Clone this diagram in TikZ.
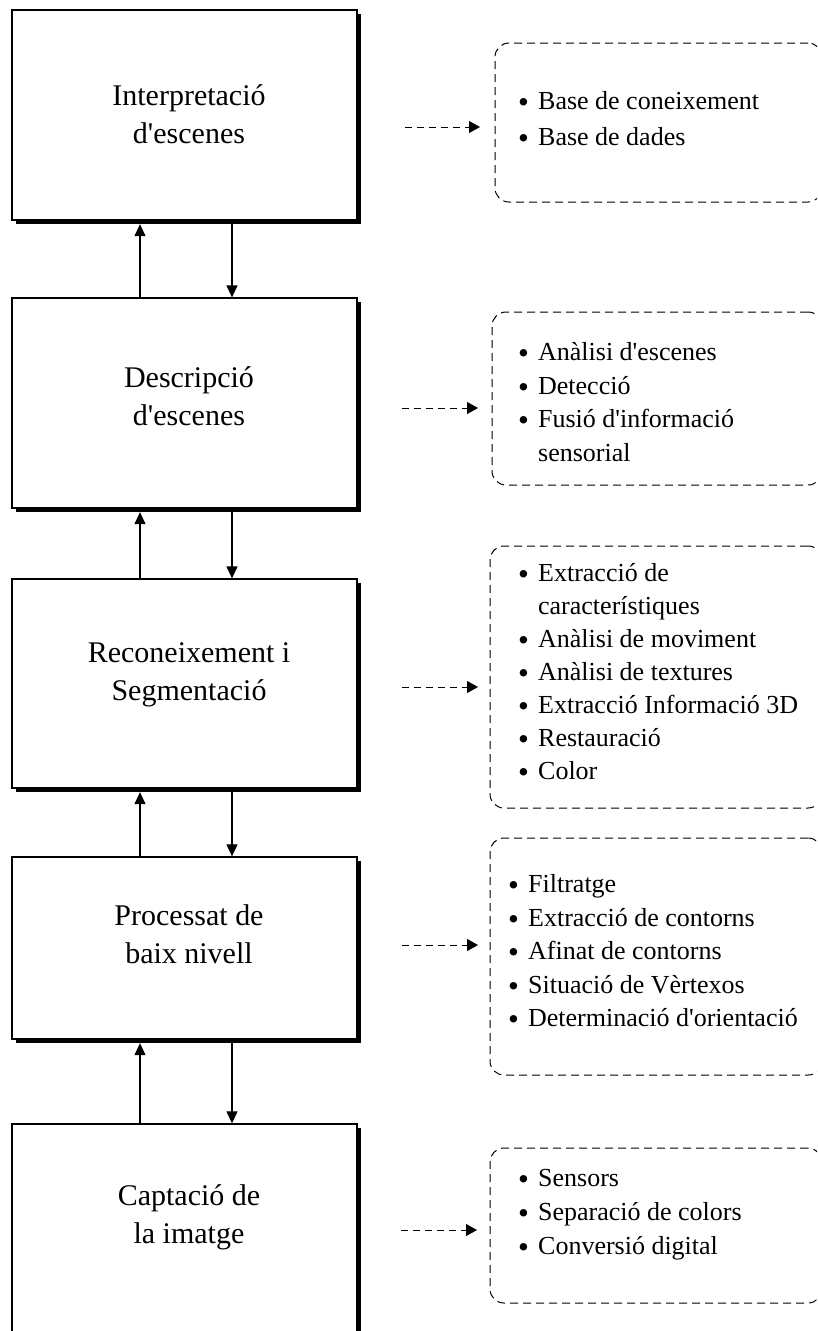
\documentclass[tikz,border=0pt]{standalone}
\usepackage{fontspec}
\setmainfont{Liberation Serif}[Ligatures=TeXOff]
\usetikzlibrary{arrows.meta,shadows}
\newcommand\bul{\raisebox{-3pt}{\fontsize{31}{0}\selectfont •}\hspace{0.35em}}
\newcommand\hng{\phantom{\fontsize{31}{0}\selectfont •}\hspace{0.35em}}
\begin{document}
\begin{tikzpicture}[x=1pt,y=-1pt,
  stage/.style={draw=black, line width=1.3pt, fill=white, minimum width=345pt,
    inner sep=0pt,
    general shadow={fill=black, shadow xshift=3.5pt, shadow yshift=-3.5pt}},
  stagetext/.style={inner sep=0pt, align=center, font=\fontsize{30}{38}\selectfont},
  dbox/.style={draw=black, line width=1pt, dash pattern=on 8pt off 5pt,
    rounded corners=14pt, inner sep=0pt},
  list/.style={inner sep=0pt, align=left, anchor=west},
  conn/.style={line width=1.2pt, -{Triangle[length=12pt,width=11pt]}},
  dconn/.style={line width=0.9pt, dash pattern=on 7pt off 5pt, -{Triangle[length=11pt,width=12pt]}}
]
\useasboundingbox (0,0) rectangle (817,1331);
\clip (0,0) rectangle (817,1331);

% stage boxes
\node[stage, minimum height=210pt] (s1) at (184.5,115) {};
\node[stage, minimum height=210pt] (s2) at (184.5,403) {};
\node[stage, minimum height=209pt] (s3) at (184.5,683.5) {};
\node[stage, minimum height=182pt] (s4) at (184.5,948) {};
\node[stage, minimum height=232pt] (s5) at (184.5,1240) {};
\node[stagetext] (t1) at (189,114) {Interpretació\\d'escenes};
\node[stagetext] (t2) at (189,396) {Descripció\\d'escenes};
\node[stagetext] (t3) at (189,675) {Reconeixement i\\Segmentació};
\node[stagetext] (t4) at (189,934) {Processat de\\baix nivell};
\node[stagetext] (t5) at (189,1217) {Captació de\\la imatge};

% shadow bottoms
\coordinate (s1b) at ([yshift=-3.5pt]s1.south);
\coordinate (s2b) at ([yshift=-3.5pt]s2.south);
\coordinate (s3b) at ([yshift=-3.5pt]s3.south);
\coordinate (s4b) at ([yshift=-3.5pt]s4.south);
\coordinate (upx) at (140,0);
\coordinate (dnx) at (232,0);

\foreach \a/\b in {s1b/s2, s2b/s3, s3b/s4, s4b/s5} {
  \draw[conn] (\b.north -| upx) -- (\a -| upx);
  \draw[conn] (\a -| dnx) -- (\b.north -| dnx);
}

% dashed boxes
\node[dbox, minimum width=327pt, minimum height=159pt] (da) at (658.5,122.5) {};
\node[dbox, minimum width=330pt, minimum height=173pt] (db) at (657,398.5) {};
\node[dbox, minimum width=332pt, minimum height=262pt] (dc) at (656,677) {};
\node[dbox, minimum width=332pt, minimum height=237pt] (dd) at (656,956.5) {};
\node[dbox, minimum width=332pt, minimum height=155pt] (de) at (656,1225.5) {};

% lists
\node[list, font=\fontsize{26}{36}\selectfont] (la) at (518,120)
  {\bul Base de coneixement\\\bul Base de dades};
\node[list, font=\fontsize{26}{33.5}\selectfont] (lb) at (518,402)
  {\bul Anàlisi d'escenes\\\bul Detecció\\\bul Fusió d'informació\\\hng sensorial};
\node[list, font=\fontsize{26}{33}\selectfont] (lc) at (518,673)
  {\bul Extracció de\\\hng característiques\\\bul Anàlisi de moviment\\\bul Anàlisi de textures\\\bul Extracció Informació 3D\\\bul Restauració\\\bul Color};
\node[list, font=\fontsize{26}{33.5}\selectfont] (ld) at (508,952)
  {\bul Filtratge\\\bul Extracció de contorns\\\bul Afinat de contorns\\\bul Situació de Vèrtexos\\\bul Determinació d'orientació};
\node[list, font=\fontsize{26}{34}\selectfont] (le) at (518,1215)
  {\bul Sensors\\\bul Separació de colors\\\bul Conversió digital};

% dashed connectors
\coordinate (a1) at (405,127);  \coordinate (b1) at (480,127);
\coordinate (a2) at (402,408);  \coordinate (b2) at (478,408);
\coordinate (a3) at (402,687);  \coordinate (b3) at (478,687);
\coordinate (a4) at (402,945);  \coordinate (b4) at (478,945);
\coordinate (a5) at (401,1230); \coordinate (b5) at (477,1230);
\foreach \i in {1,...,5} { \draw[dconn] (a\i) -- (b\i); }
\end{tikzpicture}
\end{document}
